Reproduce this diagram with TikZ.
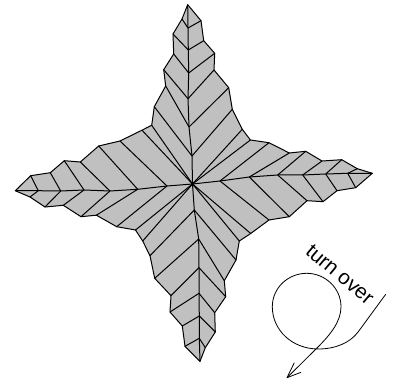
\documentclass[tikz,border=0pt]{standalone}
\usepackage{fontspec}
\setmainfont{Liberation Sans}
\tikzset{
  fold/.style={line width=0.75pt,line join=round,line cap=round,draw=black},
  paper/.style={fold,fill=paperfill},
  turnline/.style={line width=0.6pt,line join=round,draw=black},
}
\definecolor{paperfill}{HTML}{C0C0C0}
\begin{document}
\begin{tikzpicture}[x=0.75pt,y=-0.75pt]
\useasboundingbox (0,0) rectangle (393,381);
% outline
\draw[paper] (187.7,4.7) -- (201,20.7) -- (203.7,40.7) -- (214.7,53.3) -- (214,70) -- (228.7,87.7) -- (232.3,109.3) -- (242.3,129.3) -- (250.4,140)
 -- (269,142.7) -- (289.3,153) -- (305.7,151.3) -- (322,161) -- (341.7,159.7) -- (357.3,168.7) -- (372.3,173.3)
 -- (355.7,187.7) -- (337,190.7) -- (323,201.7) -- (307,200.7) -- (289.3,216.7) -- (269,220) -- (250.7,233.5) -- (239.3,241)
 -- (236,260) -- (224.3,280.7) -- (225.7,296.7) -- (214.7,312.7) -- (215.3,332) -- (205.3,347.7) -- (200,361.3)
 -- (185,346.3) -- (182.3,326) -- (170,312) -- (171,295.7) -- (154.7,278.3) -- (150,255.7) -- (142.7,241) -- (135.5,230)
 -- (116.7,226.7) -- (96.4,215.2) -- (81,216.7) -- (63.3,205.3) -- (45,207) -- (30,197) -- (15.3,190.7)
 -- (30.7,175.7) -- (50.3,172.7) -- (64.3,160.7) -- (80.3,162) -- (98.7,146) -- (120,141) -- (142,130.2) -- (151.7,125.3)
 -- (154.3,106.7) -- (165.7,86) -- (163.7,69.7) -- (173.7,54) -- (173,34) -- (182,19) -- cycle;
% spines
\coordinate (C) at (192.5,184);
\draw[fold] (187.7,4.7) -- (188,28) -- (188.3,50) -- (188.7,73) -- (188,98.7) -- (189,127) -- (192,156) -- (C);
\draw[fold] (372.3,173.3) -- (347.7,173.3) -- (325.7,174) -- (302.7,175) -- (277.7,175) -- (249.3,177) -- (220,181) -- (C);
\draw[fold] (200,361.3) -- (199.3,338.3) -- (199.3,316) -- (199,293.3) -- (199,267.7) -- (198.7,239) -- (194.3,210) -- (C);
\draw[fold] (15.3,190.7) -- (38.3,190.7) -- (60.7,191) -- (84,190) -- (110,191) -- (137.7,189.3) -- (167,186) -- (C);
% top ribs
\draw[fold] (182,19) -- (188,28) -- (201,20.7);
\draw[fold] (173,34) -- (188.3,50) -- (203.7,40.7);
\draw[fold] (173.7,54) -- (188.7,73) -- (214.7,53.3);
\draw[fold] (163.7,69.7) -- (188,98.7) -- (214,70);
\draw[fold] (165.7,86) -- (189,127) -- (228.7,87.7);
\draw[fold] (154.3,106.7) -- (192,156) -- (232.3,109.3);
\draw[fold] (151.7,125.3) -- (C) -- (242.3,129.3);
\draw[fold] (142,130.2) -- (C) -- (250.4,140);
% right ribs
\draw[fold] (269,142.7) -- (220,181) -- (269,220);
\draw[fold] (289.3,153) -- (249.3,177) -- (289.3,216.7);
\draw[fold] (305.7,151.3) -- (277.7,175) -- (307,200.7);
\draw[fold] (322,161) -- (302.7,175) -- (323,201.7);
\draw[fold] (341.7,159.7) -- (325.7,174) -- (337,190.7);
\draw[fold] (357.3,168.7) -- (347.7,173.3) -- (355.7,187.7);
% bottom ribs
\draw[fold] (250.7,233.5) -- (C) -- (135.5,230);
\draw[fold] (239.3,241) -- (C) -- (142.7,241);
\draw[fold] (236,260) -- (194.3,210) -- (150,255.7);
\draw[fold] (224.3,280.7) -- (198.7,239) -- (154.7,278.3);
\draw[fold] (225.7,296.7) -- (199,267.7) -- (171,295.7);
\draw[fold] (214.7,312.7) -- (199,293.3) -- (170,312);
\draw[fold] (215.3,332) -- (199.3,316) -- (182.3,326);
\draw[fold] (205.3,347.7) -- (199.3,338.3) -- (185,346.3);
% left ribs
\draw[fold] (120,141) -- (167,186) -- (116.7,226.7);
\draw[fold] (98.7,146) -- (137.7,189.3) -- (96.4,215.2);
\draw[fold] (80.3,162) -- (110,191) -- (81,216.7);
\draw[fold] (64.3,160.7) -- (84,190) -- (63.3,205.3);
\draw[fold] (50.3,172.7) -- (60.7,191) -- (45,207);
\draw[fold] (30.7,175.7) -- (38.3,190.7) -- (30,197);
% turn over
\draw[turnline] (385.7,294.3) -- (358.3,331.7) .. controls (350,343) and (335,349) .. (318.3,349)
  .. controls (292,349) and (272.3,330) .. (272.3,306.7)
  .. controls (272.3,288) and (288,273.3) .. (306.7,273.3)
  .. controls (325,273.3) and (341,288) .. (341,306.7)
  .. controls (341,322) and (330,335) .. (316.7,348.3) -- (287,377.7);
\draw[turnline] (294.3,362.7) -- (287,377.7) -- (301,372.3);
\node (label) [rotate=-40,font=\fontsize{15.5pt}{17pt}\selectfont,inner sep=0pt] at (340,274.5) {turn over};
\end{tikzpicture}
\end{document}
